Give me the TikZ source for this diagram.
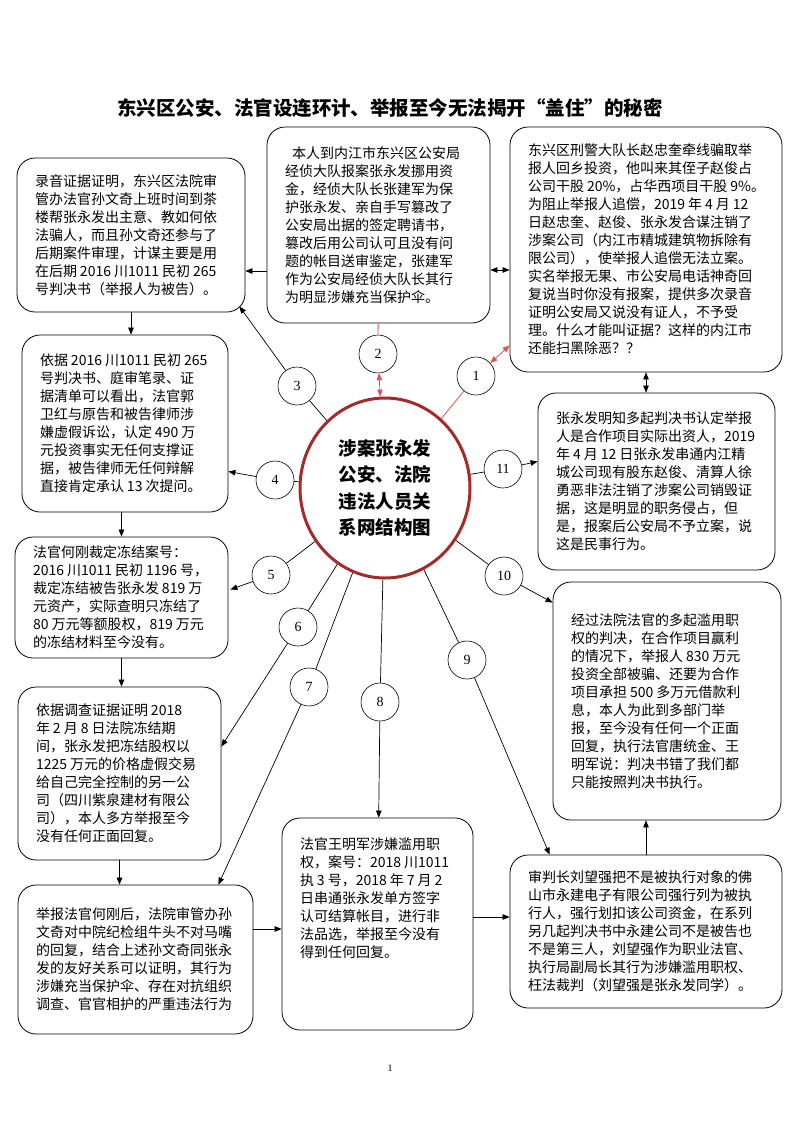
\documentclass[tikz,border=0pt]{standalone}
\usepackage{fontspec}
\setmainfont{Noto Sans CJK SC}
\newfontfamily\numfont{Liberation Serif}
\usetikzlibrary{shapes.geometric,arrows.meta,calc}
\definecolor{ellred}{RGB}{165,42,42}
\definecolor{linkred}{RGB}{222,84,84}
\newcommand{\nsp}{\kern3pt}

\begin{document}
\begin{tikzpicture}[
  x=1pt, y=-1pt,
  >={Triangle[length=7pt,width=5.5pt]},
  infobox/.style={
    rectangle, draw=black, line width=0.8pt, rounded corners=18pt,
    inner xsep=18pt, inner ysep=0pt, align=left,
    font=\fontsize{14}{18}\selectfont
  },
  numcircle/.style={
    circle, draw=black, line width=0.6pt, fill=white,
    minimum size=38pt, inner sep=0pt,
    font=\numfont\fontsize{14}{14}\selectfont
  },
  hub/.style={
    ellipse, draw=ellred, line width=3pt,
    minimum width=170pt, minimum height=180pt, align=center,
    font=\bfseries\fontsize{18.5}{26.5}\selectfont
  },
  link/.style={->, line width=0.7pt},
  redlink/.style={<->, line width=0.8pt, draw=linkred}
]
\fill[white] (0,0) rectangle (793,1122);
\useasboundingbox (0,0) rectangle (793,1122);

% Title
\node (title) at (390,108) {\bfseries\fontsize{19.5}{20}\selectfont 东兴区公安、法官设连环计、举报至今无法揭开“盖住”的秘密};

% Boxes
\node[infobox, text width=192pt, minimum height=154pt] (recording) at (131,235)
  {录音证据证明，东兴区法院审\\管办法官孙文奇上班时间到茶\\楼帮张永发出主意、教如何依\\法骗人，而且孙文奇还参与了\\后期案件审理，计谋主要是用\\在后期\nsp 2016\nsp 川1011\nsp 民初\nsp 265\\号判决书（举报人为被告）。};
\node[infobox, text width=187pt, minimum height=196pt] (police) at (378.5,225)
  {\hspace*{7pt}本人到内江市东兴区公安局\\经侦大队报案张永发挪用资\\金，经侦大队长张建军为保\\护张永发、亲自手写篡改了\\公安局出据的签定聘请书，\\篡改后用公司认可且没有问\\题的帐目送审鉴定，张建军\\作为公安局经侦大队长其行\\为明显涉嫌充当保护伞。};
\node[infobox, text width=236pt, minimum height=245pt] (crimeteam) at (646,249.5)
  {东兴区刑警大队长赵忠奎牵线骗取举\\报人回乡投资，他叫来其侄子赵俊占\\公司干股\nsp 20\%，占华西项目干股\nsp 9\%。\\为阻止举报人追偿，2019\nsp 年\nsp 4\nsp 月\nsp 12\\日赵忠奎、赵俊、张永发合谋注销了\\涉案公司（内江市精城建筑物拆除有\\限公司），使举报人追偿无法立案。\\实名举报无果、市公安局电话神奇回\\复说当时你没有报案，提供多次录音\\证明公安局又说没有证人，不予受\\理。什么才能叫证据？这样的内江市\\还能扫黑除恶？？};
\node[infobox, text width=170pt, minimum height=177pt] (lawsuit) at (125,423.5)
  {依据\nsp 2016\nsp 川1011\nsp 民初\nsp 265\\号判决书、庭审笔录、证\\据清单可以看出，法官郭\\卫红与原告和被告律师涉\\嫌虚假诉讼，认定\nsp 490\nsp 万\\元投资事实无任何支撑证\\据，被告律师无任何辩解\\直接肯定承认\nsp 13\nsp 次提问。};
\node[infobox, text width=201pt, minimum height=177pt] (cancel) at (656.5,481.5)
  {张永发明知多起判决书认定举报\\人是合作项目实际出资人，2019\\年\nsp 4\nsp 月\nsp 12\nsp 日张永发串通内江精\\城公司现有股东赵俊、清算人徐\\勇恶非法注销了涉案公司销毁证\\据，这是明显的职务侵占，但\\是，报案后公安局不予立案，说\\这是民事行为。};
\node[infobox, text width=177pt, minimum height=121pt] (freeze) at (121.5,597.5)
  {法官何刚裁定冻结案号：\\2016\nsp 川1011\nsp 民初\nsp 1196\nsp 号，\\裁定冻结被告张永发\nsp 819\nsp 万\\元资产，实际查明只冻结了\\80\nsp 万元等额股权，819\nsp 万元\\的冻结材料至今没有。};
\node[infobox, text width=192pt, minimum height=238pt] (verdicts) at (667,701)
  {经过法院法官的多起滥用职\\权的判决，在合作项目赢利\\的情况下，举报人\nsp 830\nsp 万元\\投资全部被骗、还要为合作\\项目承担\nsp 500\nsp 多万元借款利\\息，本人为此到多部门举\\报，至今没有任何一个正面\\回复，执行法官唐统金、王\\明军说：判决书错了我们都\\只能按照判决书执行。};
\node[infobox, text width=167pt, minimum height=173pt] (transfer) at (119.5,773.5)
  {依据调查证据证明\nsp 2018\\年\nsp 2\nsp 月\nsp 8\nsp 日法院冻结期\\间，张永发把冻结股权以\\1225\nsp 万元的价格虚假交易\\给自己完全控制的另一公\\司（四川紫泉建材有限公\\司），本人多方举报至今\\没有任何正面回复。};
\node[infobox, text width=199pt, minimum height=149pt] (umbrella) at (135.5,959.5)
  {举报法官何刚后，法院审管办孙\\文奇对中院纪检组牛头不对马嘴\\的回复，结合上述孙文奇同张永\\发的友好关系可以证明，其行为\\涉嫌充当保护伞、存在对抗组织\\调查、官官相护的严重违法行为};
\node[infobox, text width=155pt, minimum height=212pt] (settle) at (377.5,924)
  {法官王明军涉嫌滥用职\\权，案号：2018\nsp 川1011\\执\nsp 3\nsp 号，2018\nsp 年\nsp 7\nsp 月\nsp 2\\日串通张永发单方签字\\认可结算帐目，进行非\\法品选，举报至今没有\\得到任何回复。\\[34pt]\mbox{}};
\node[infobox, text width=236pt, minimum height=153pt] (seizure) at (646,931.5)
  {审判长刘望强把不是被执行对象的佛\\山市永建电子有限公司强行列为被执\\行人，强行划扣该公司资金，在系列\\另几起判决书中永建公司不是被告也\\不是第三人，刘望强作为职业法官、\\执行局副局长其行为涉嫌滥用职权、\\枉法裁判（刘望强是张永发同学）。};

% Hub
\node[hub] (hub) at (385,488) {涉案张永发\\公安、法院\\违法人员关\\系网结构图};

% Numbered circles
\node[numcircle] (c1) at (476,376) {1};
\node[numcircle] (c2) at (378,354) {2};
\node[numcircle] (c3) at (297,386) {3};
\node[numcircle] (c4) at (275,480) {4};
\node[numcircle] (c5) at (271,575) {5};
\node[numcircle] (c6) at (298,627) {6};
\node[numcircle] (c7) at (309,687) {7};
\node[numcircle] (c8) at (380,702) {8};
\node[numcircle] (c9) at (467,660) {9};
\node[numcircle] (c10) at (504,576) {10};
\node[numcircle] (c11) at (503,469) {11};

% Links between boxes
\draw[link] ($(police.west)+(0,46)$) -- ($(recording.east)+(0,36)$);
\draw[link, <->] ($(police.east)+(0,45)$) -- ($(crimeteam.west)+(0,20.5)$);
\draw[link] (recording.south) -- (recording.south |- lawsuit.north);
\draw[link, <->] (crimeteam.south) -- (crimeteam.south |- cancel.north);
\draw[link] (lawsuit.south -| freeze.north) -- (freeze.north);
\draw[link] (freeze.south) -- (freeze.south |- transfer.north);
\draw[link] (transfer.south) -- (transfer.south |- umbrella.north);
\draw[link] ($(umbrella.east)+(0,-30.5)$) -- ($(settle.west)+(0,5)$);
\draw[link] ($(settle.east)+(0,-7)$) -- ($(seizure.west)+(0,-14.5)$);
\draw[link] (seizure.north) -- (seizure.north |- verdicts.south);

% Links from the hub
\draw[redlink] (hub) -- (c1) -- ($(crimeteam.south west)+(0,-27)$);
\draw[redlink] (police) -- (c2) -- (hub);
\draw[link] (hub) -- (c3) -- ($(recording.south east)+(-6,-6)$);
\draw[link] (hub) -- (c4) -- ($(lawsuit.east)+(0,48)$);
\draw[link] (hub) -- (c5) -- ($(freeze.east)+(2,-8)$);
\draw[link] (hub) -- (c6) -- ($(transfer.east)+(0,-27)$);
\draw[link] (hub) -- (c7) -- ($(umbrella.north east)+(-35,0)$);
\draw[link] (hub) -- (c8) -- (settle);
\draw[link] (hub) -- (c9) -- ($(seizure.north west)+(40,0)$);
\draw[link] (hub) -- (c10) -- ($(verdicts.north west)+(0,21)$);
\draw[link] (hub) -- (c11) -- ($(cancel.west)+(0,-20)$);

% Page number
\node (pagenum) at (390,1068) {\numfont\fontsize{10}{10}\selectfont 1};
\end{tikzpicture}
\end{document}
